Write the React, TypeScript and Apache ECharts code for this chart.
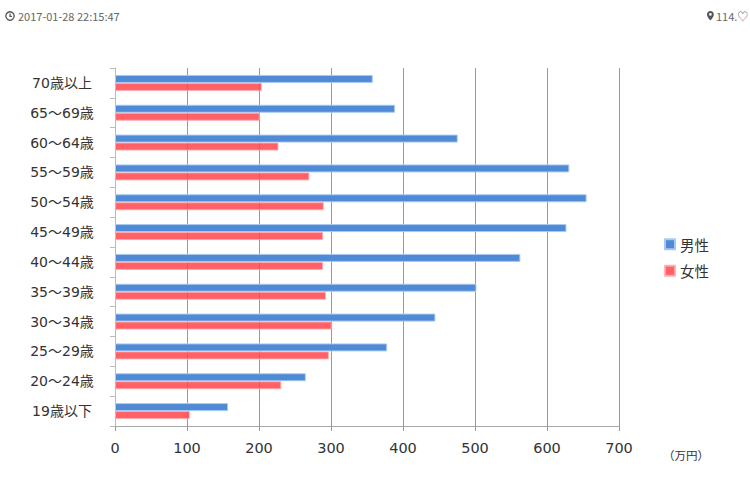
import React, { useEffect, useRef } from "react";
import * as echarts from "echarts";

const categories = [
  "19歳以下", "20～24歳", "25～29歳", "30～34歳", "35～39歳", "40～44歳",
  "45～49歳", "50～54歳", "55～59歳", "60～64歳", "65～69歳", "70歳以上",
];
const maleValues = [157, 265, 378, 445, 502, 563, 627, 655, 631, 476, 389, 358];
const femaleValues = [104, 231, 297, 301, 293, 289, 289, 290, 270, 227, 201, 204];
const xTicks = { min: 0, max: 700, interval: 100 };

echarts.graphic.registerShape(
  "pinIcon",
  echarts.graphic.extendPath(
    "M4 0C1.8 0 0 1.8 0 4c0 3 4 7 4 7s4-4 4-7C8 1.8 6.2 0 4 0zM4 5.6A1.6 1.6 0 1 1 4 2.4A1.6 1.6 0 1 1 4 5.6z",
    {}
  ) as any
);

export default function App() {
  const ref = useRef<HTMLDivElement>(null);
  useEffect(() => {
    document.body.style.margin = "0";
    if (!ref.current) return;
    const chart = echarts.init(ref.current, undefined, { renderer: "svg" });
    const font = "'Noto Sans CJK JP', 'Noto Sans', sans-serif";
    const labelFont = "'DejaVu Sans', 'Noto Sans CJK JP', sans-serif";
    chart.setOption({
      animation: false,
      textStyle: { fontFamily: font },
      grid: { left: 115, right: 131, top: 68, bottom: 54, containLabel: false },
      legend: {
        orient: "vertical",
        left: 659,
        top: 232,
        itemWidth: 10,
        itemHeight: 10,
        itemGap: 12,
        icon: "rect",
        data: ["男性", "女性"],
        textStyle: { fontSize: 14.5, color: "#333", fontFamily: font },
      },
      xAxis: {
        type: "value",
        min: xTicks.min,
        max: xTicks.max,
        interval: xTicks.interval,
        axisLine: { show: true, lineStyle: { color: "#aaa" } },
        axisTick: { show: true, length: 5, lineStyle: { color: "#999" } },
        splitLine: { show: true, lineStyle: { color: "#999", width: 1 } },
        axisLabel: { fontSize: 14.5, color: "#333", margin: 15, fontFamily: labelFont },
      },
      yAxis: {
        type: "category",
        data: categories,
        axisLine: { show: true, lineStyle: { color: "#bbb" } },
        axisTick: { show: true, length: 5, lineStyle: { color: "#bbb" } },
        axisLabel: { fontSize: 14, color: "#333", align: "center", margin: 53, fontFamily: labelFont },
      },
      series: [
        {
          name: "男性",
          type: "bar",
          data: maleValues,
          barWidth: 8,
          barGap: "0%",
          itemStyle: { color: "#4e8ad5", borderColor: "#a9c9f0", borderWidth: 1 },
        },
        {
          name: "女性",
          type: "bar",
          data: femaleValues,
          barWidth: 8,
          barGap: "0%",
          itemStyle: { color: "rgba(255,69,76,0.85)", borderColor: "rgba(255,170,174,0.85)", borderWidth: 1 },
        },
      ],
      graphic: [
        { type: "circle", shape: { cx: 10, cy: 16, r: 4.2 }, style: { fill: "none", stroke: "#555", lineWidth: 1.3 } },
        { type: "polyline", shape: { points: [[10, 13.5], [10, 16.3], [12, 16.3]] }, style: { fill: "none", stroke: "#555", lineWidth: 1.2 } },
        { type: "text", x: 18, y: 16, style: { text: "2017-01-28 22:15:47", fontSize: 11, fill: "#666", fontFamily: font, textVerticalAlign: "middle" } },
        { type: "pinIcon", x: 707, y: 11, scaleX: 0.85, scaleY: 0.85, style: { fill: "#555" } },
        { type: "text", x: 716, y: 16, style: { text: "114.♡", fontSize: 11, fill: "#666", fontFamily: font, textVerticalAlign: "middle" } },
        { type: "text", x: 663, y: 455, style: { text: "（万円）", fontSize: 11.5, fill: "#333", fontFamily: font, textVerticalAlign: "middle" } },
      ],
    });
    return () => chart.dispose();
  }, []);
  return <div ref={ref} style={{ width: 750, height: 480 }} />;
}
